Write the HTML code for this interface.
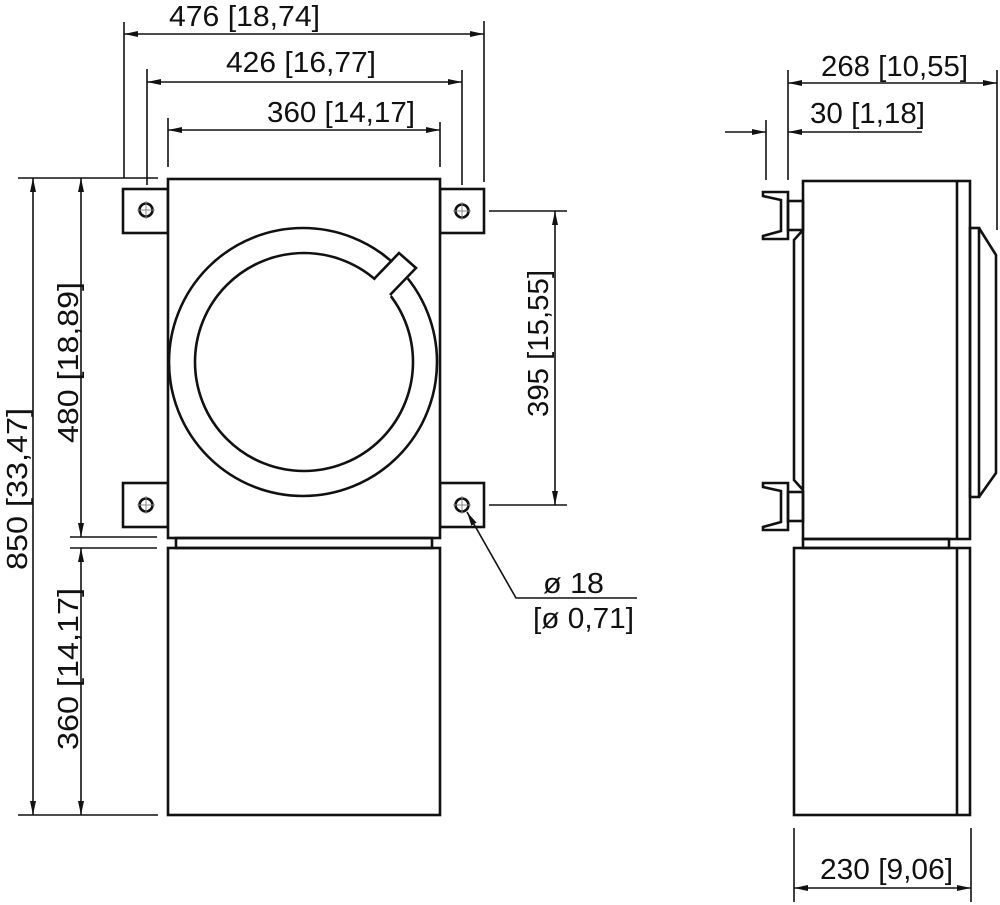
<!DOCTYPE html>
<html><head><meta charset="utf-8"><style>
html,body{margin:0;padding:0;background:#fff;}
svg{display:block;}
text{font-family:"Liberation Sans",sans-serif;font-size:29px;fill:#111;}
</style></head><body>
<svg width="1000" height="905" viewBox="0 0 1000 905" xmlns="http://www.w3.org/2000/svg">
<defs>
<marker id="a" viewBox="0 0 14 6" refX="14" refY="3" markerWidth="14" markerHeight="6" markerUnits="userSpaceOnUse" orient="auto-start-reverse">
<path d="M0,0 L14,3 L0,6 z" fill="#111"/>
</marker>
</defs>
<g fill="none" stroke="#111" stroke-width="1.6">
<line x1="124" y1="22" x2="124" y2="178"/><line x1="484" y1="21" x2="484" y2="182"/>
<line x1="124" y1="34" x2="484" y2="34" marker-start="url(#a)" marker-end="url(#a)"/>
<line x1="147" y1="69" x2="147" y2="185"/><line x1="462" y1="70" x2="462" y2="185"/>
<line x1="147" y1="82" x2="462" y2="82" marker-start="url(#a)" marker-end="url(#a)"/>
<line x1="168" y1="118" x2="168" y2="167"/><line x1="440" y1="122" x2="440" y2="167"/>
<line x1="168" y1="130" x2="440" y2="130" marker-start="url(#a)" marker-end="url(#a)"/>
<line x1="18" y1="178" x2="158" y2="178"/><line x1="18" y1="815" x2="158" y2="815"/>
<line x1="70" y1="537" x2="157" y2="537"/><line x1="70" y1="548" x2="157" y2="548"/>
<line x1="33" y1="178" x2="33" y2="815" marker-start="url(#a)" marker-end="url(#a)"/>
<line x1="81" y1="178" x2="81" y2="537" marker-start="url(#a)" marker-end="url(#a)"/>
<line x1="81" y1="548" x2="81" y2="815" marker-start="url(#a)" marker-end="url(#a)"/>
<line x1="489" y1="211" x2="567" y2="211"/><line x1="489" y1="505" x2="567" y2="505"/>
<line x1="555" y1="211" x2="555" y2="505" marker-start="url(#a)" marker-end="url(#a)"/>
<polyline points="467,512 516,598 637,598" marker-start="url(#a)"/>
<line x1="788" y1="70" x2="788" y2="180"/><line x1="997" y1="70" x2="997" y2="230"/>
<line x1="788" y1="83" x2="997" y2="83" marker-start="url(#a)" marker-end="url(#a)"/>
<line x1="766" y1="120" x2="766" y2="180"/>
<line x1="725" y1="132" x2="766" y2="132" marker-end="url(#a)"/>
<line x1="922" y1="132" x2="788" y2="132" marker-end="url(#a)"/>
<line x1="794" y1="828" x2="794" y2="902"/><line x1="971" y1="828" x2="971" y2="902"/>
<line x1="794" y1="888" x2="971" y2="888" marker-start="url(#a)" marker-end="url(#a)"/>
</g>
<g fill="none" stroke="#111" stroke-width="2.6">
<rect x="123" y="189" width="45" height="44"/><rect x="440" y="189" width="44" height="44"/>
<rect x="123" y="483" width="45" height="44"/><rect x="440" y="483" width="44" height="44"/>
<rect x="168" y="179" width="272" height="359" fill="#fff"/>
<rect x="176" y="538" width="256" height="10"/>
<rect x="168" y="548" width="272" height="267"/>
<circle cx="303" cy="362" r="134"/>
<circle cx="304" cy="362" r="109"/>
<polygon points="372,283 398,256 414,272 388,299" fill="#fff" stroke="none"/>
<polyline points="374,279 399,253 416,268 390,295"/>
<rect x="803" y="181" width="167" height="358"/>
<line x1="957" y1="181" x2="957" y2="539"/>
<rect x="803" y="539" width="146" height="9"/>
<rect x="794" y="548" width="176" height="267"/>
<line x1="957" y1="548" x2="957" y2="815"/>
<polyline points="803,230 794,240 794,480 803,490"/>
<polygon points="763,192 788,192 788,239 763,239 763,236 781,231 781,200 763,196"/>
<rect x="788" y="201" width="15" height="29"/>
<polygon points="763,483 788,483 788,530 763,530 763,527 781,522 781,491 763,487"/>
<rect x="788" y="492" width="15" height="29"/>
<rect x="970" y="228" width="9" height="269"/>
<polyline points="979,228 996,255 996,473 979,497"/>
</g>
<g fill="none" stroke="#111" stroke-width="2.6">
<circle cx="146" cy="210" r="6.5"/><circle cx="462" cy="211" r="6.5"/>
<circle cx="146" cy="505" r="6.5"/><circle cx="462" cy="505" r="6.5"/>
</g>
<g stroke="#888" stroke-width="1">
<path d="M137,210h18M146,201v18M453,211h18M462,202v18M137,505h18M146,496v18M453,505h18M462,496v18"/>
</g>
<g>
<text x="169" y="26" textLength="151" lengthAdjust="spacingAndGlyphs">476 [18,74]</text>
<text x="226" y="72" textLength="150" lengthAdjust="spacingAndGlyphs">426 [16,77]</text>
<text x="267" y="122" textLength="148" lengthAdjust="spacingAndGlyphs">360 [14,17]</text>
<text x="821" y="76" textLength="147" lengthAdjust="spacingAndGlyphs">268 [10,55]</text>
<text x="810" y="123" textLength="115" lengthAdjust="spacingAndGlyphs">30 [1,18]</text>
<text x="820" y="879" textLength="133" lengthAdjust="spacingAndGlyphs">230 [9,06]</text>
<text x="543" y="593" textLength="61" lengthAdjust="spacingAndGlyphs">ø 18</text>
<text x="533" y="628" textLength="101" lengthAdjust="spacingAndGlyphs">[ø 0,71]</text>
<text transform="translate(27,570) rotate(-90)" textLength="162" lengthAdjust="spacingAndGlyphs">850 [33,47]</text>
<text transform="translate(78,443) rotate(-90)" textLength="161" lengthAdjust="spacingAndGlyphs">480 [18,89]</text>
<text transform="translate(78,750) rotate(-90)" textLength="162" lengthAdjust="spacingAndGlyphs">360 [14,17]</text>
<text transform="translate(548,417) rotate(-90)" textLength="147" lengthAdjust="spacingAndGlyphs">395 [15,55]</text>
</g>
</svg>
</body></html>
